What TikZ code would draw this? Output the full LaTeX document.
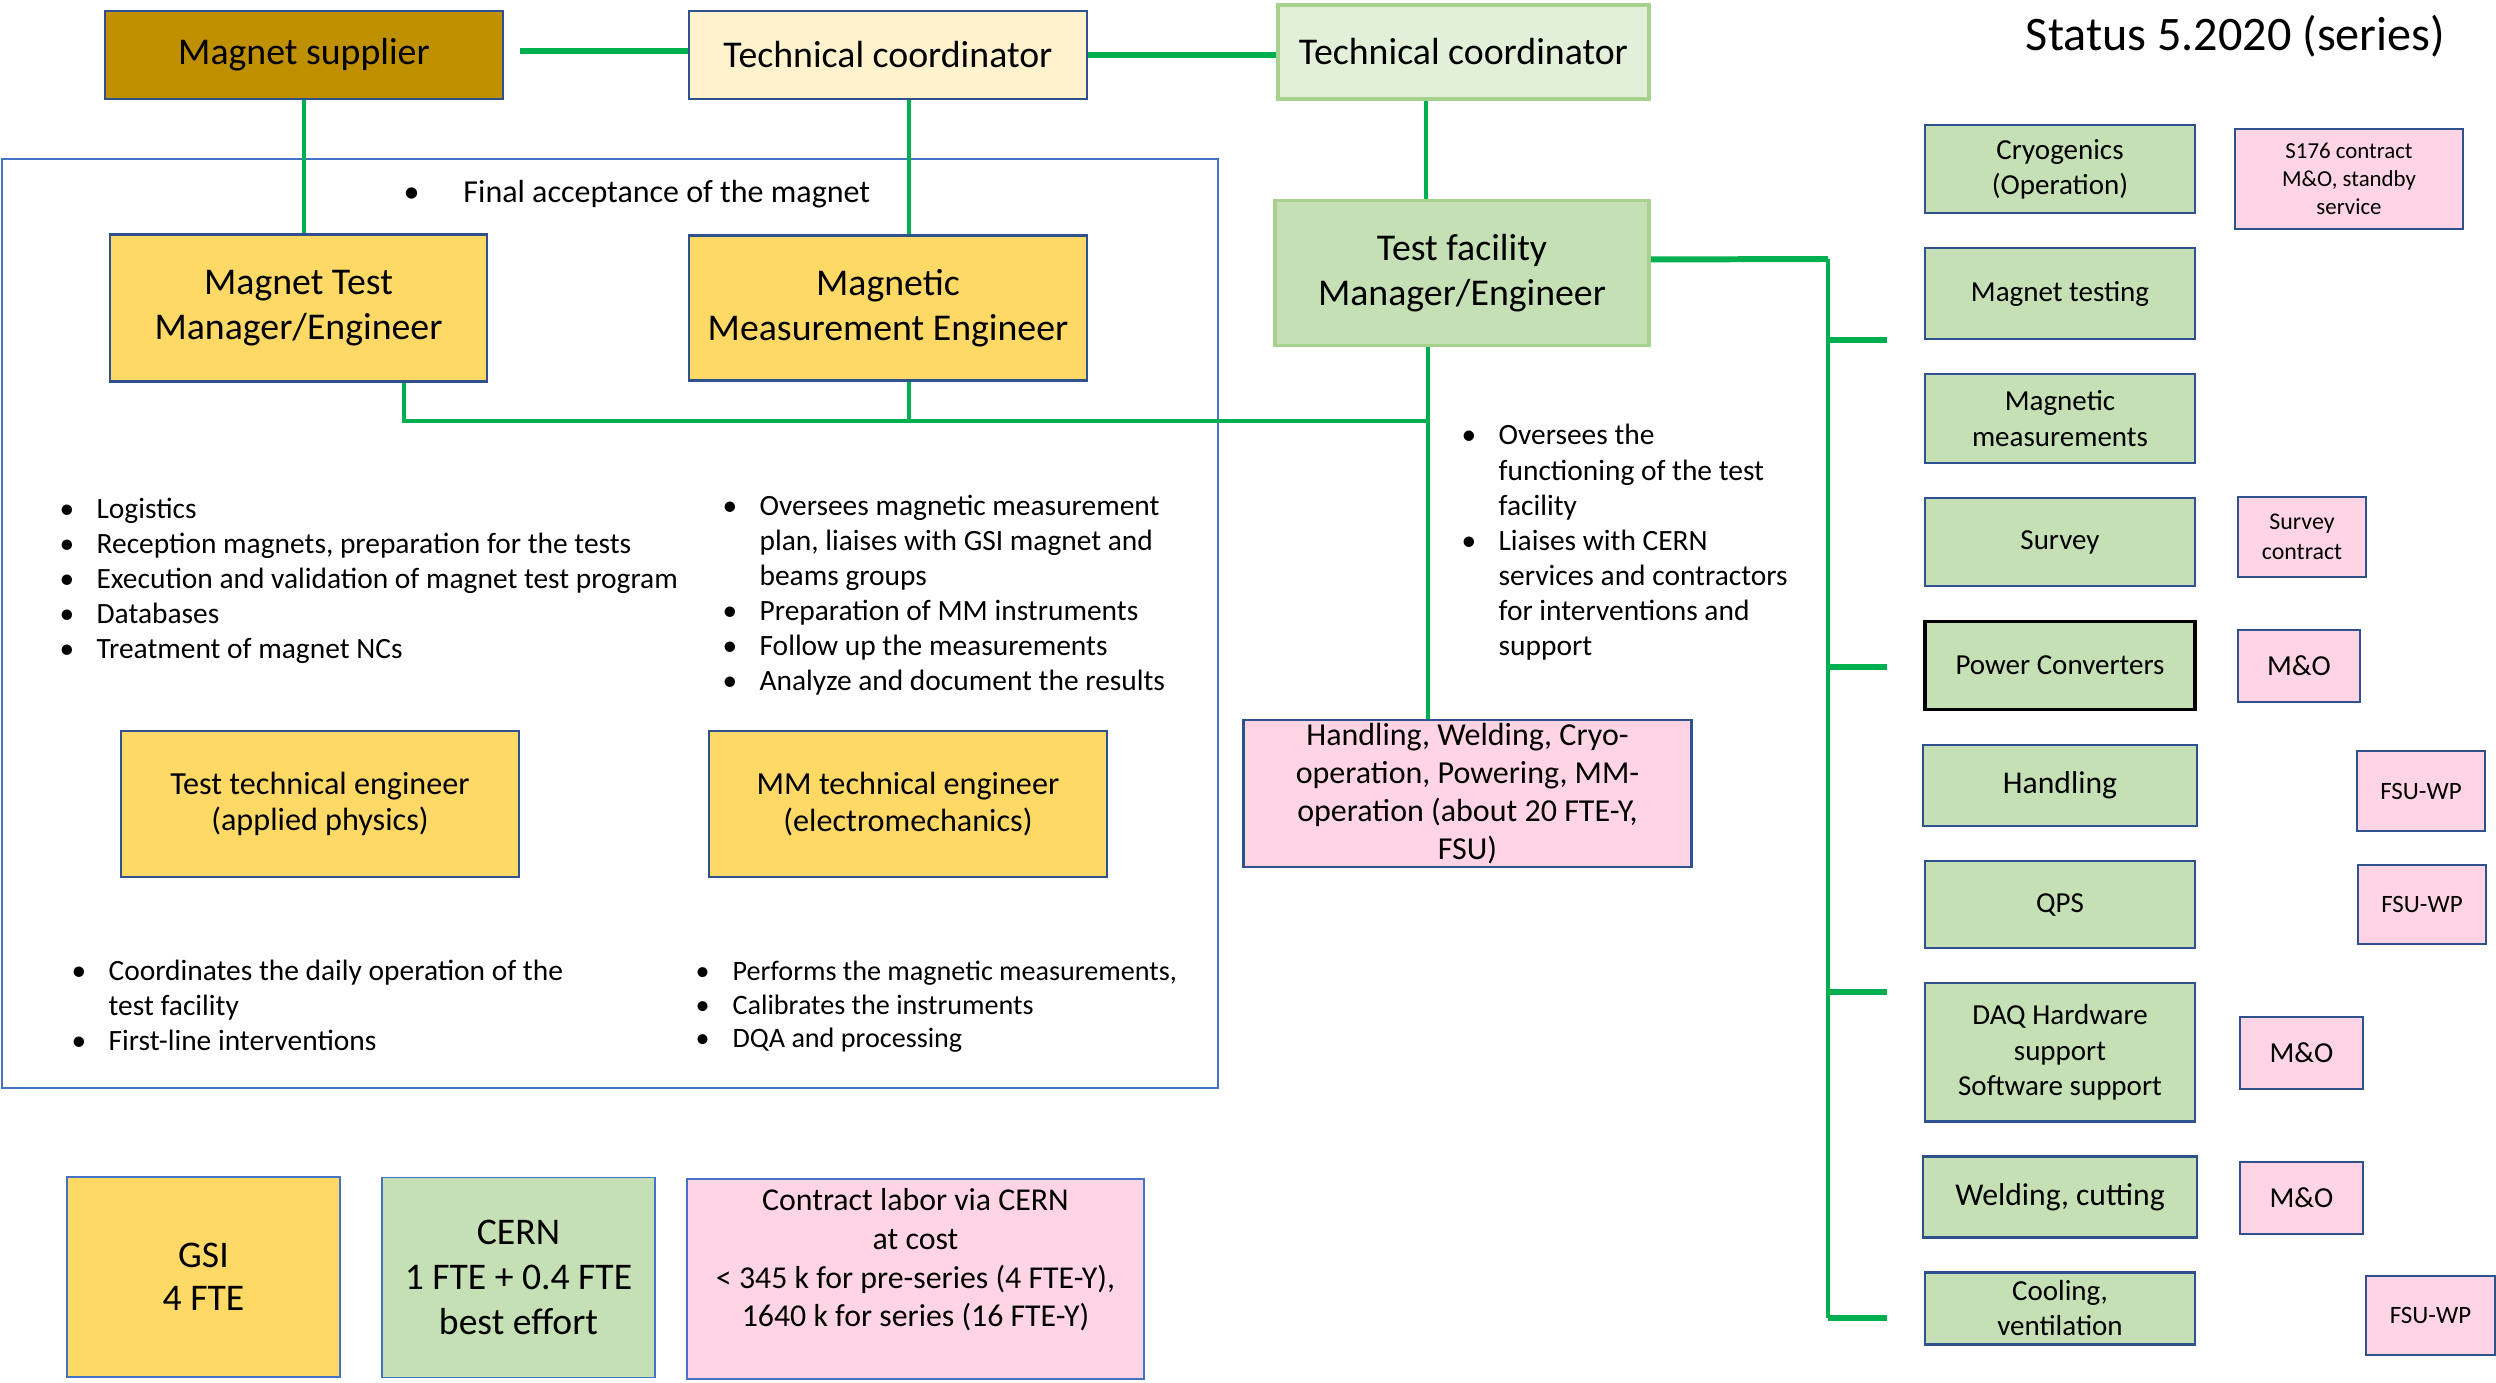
\documentclass[tikz,border=0pt]{standalone}
\usepackage{fontspec}
\setmainfont{Carlito}
\usepackage{tikz}
\usetikzlibrary{positioning, calc}

\definecolor{bdblue}{HTML}{2F528F}
\definecolor{frameblue}{HTML}{4472C4}
\definecolor{magnetgold}{HTML}{BF9000}
\definecolor{paleyellow}{HTML}{FFF2CC}
\definecolor{yellowbox}{HTML}{FFD966}
\definecolor{palegreen}{HTML}{E2F0D9}
\definecolor{greenbox}{HTML}{C5E0B4}
\definecolor{greenedge}{HTML}{A9D18E}
\definecolor{pinkbox}{HTML}{FFD5E5}
\definecolor{linegreen}{HTML}{00B050}

\newcommand{\bul}[1][10.5pt]{\makebox[#1][l]{\textbullet}}
\newcommand{\bulind}{\hspace*{10.5pt}}

\begin{document}
\begin{tikzpicture}[
    x=0.01cm, y=-0.01cm,
    node distance=0.325cm,
    box/.style={draw=bdblue, line width=0.7pt, align=center, inner sep=0pt},
    bigfont/.style={font=\fontsize{10.75}{12.8}\selectfont},
    sbox/.style={box, fill=greenbox, minimum width=2.7cm, font=\fontsize{8.25}{10}\selectfont},
    pbox/.style={box, fill=pinkbox, line width=0.8pt},
    tally/.style={box, draw=frameblue, line width=0.5pt, minimum width=2.73cm, minimum height=2cm},
    lst/.style={align=left, inner sep=0pt, anchor=base west, font=\fontsize{8.37}{10}\selectfont},
    topline/.style={draw=linegreen, line width=1.7pt},
    link/.style={draw=linegreen, line width=1.2pt}
    ]
    \useasboundingbox (0,0) rectangle (2496,1383);

    % GSI frame
    \draw[frameblue, line width=0.6pt] (2,159) rectangle (1218,1088);

    % Top row
    \node[box, fill=magnetgold, minimum width=3.98cm, minimum height=0.88cm, bigfont] (supplier) at (304,55) {Magnet supplier};
    \node[box, fill=paleyellow, minimum width=3.98cm, minimum height=0.88cm, bigfont] (coordA) at (888,55) {Technical coordinator};
    \node[box, draw=greenedge, line width=1pt, fill=palegreen, minimum width=3.71cm, minimum height=0.94cm, bigfont] (coordB) at (1463.5,52) {Technical coordinator};
    \node[anchor=base east, inner sep=0pt, font=\fontsize{13.7}{16}\selectfont] (status) at (2446,51) {Status 5.2020 (series)};

    % Managers
    \node[box, fill=yellowbox, minimum width=3.77cm, minimum height=1.47cm, bigfont] (testmgr) at (298.5,308) {Magnet Test\\Manager/Engineer};
    \node[box, fill=yellowbox, minimum width=3.98cm, minimum height=1.45cm, bigfont] (mmeng) at (888,308) {Magnetic\\Measurement Engineer};
    \node[box, draw=greenedge, line width=1pt, fill=greenbox, minimum width=3.74cm, minimum height=1.45cm, bigfont] (facmgr) at (1462,273) {Test facility\\Manager/Engineer};

    % Duties (anchored at the baseline of the last line)
    \node[lst, font=\fontsize{9.1}{11}\selectfont] (accept) at (403,203) {\bul[17pt]Final acceptance of the magnet};
    \node[lst] (mgrtasks) at (59,659) {\bul Logistics\\ \bul Reception magnets, preparation for the tests\\ \bul Execution and validation of magnet test program\\ \bul Databases\\ \bul Treatment of magnet NCs};
    \node[lst] (mmtasks) at (722,691) {\bul Oversees magnetic measurement\\ \bulind plan, liaises with GSI magnet and\\ \bulind beams groups\\ \bul Preparation of MM instruments\\ \bul Follow up the measurements\\ \bul Analyze and document the results};
    \node[lst] (factasks) at (1461,656) {\bul Oversees the\\ \bulind functioning of the test\\ \bulind facility\\ \bul Liaises with CERN\\ \bulind services and contractors\\ \bulind for interventions and\\ \bulind support};

    % Engineers
    \node[box, fill=yellowbox, minimum width=3.98cm, minimum height=1.46cm, font=\fontsize{9.15}{10.4}\selectfont] (testtech) at (320,804) {Test technical engineer\\(applied physics)};
    \node[box, fill=yellowbox, minimum width=3.98cm, minimum height=1.46cm, font=\fontsize{9.15}{10.4}\selectfont] (mmtech) at (908,804) {MM technical engineer\\(electromechanics)};
    \node[pbox, minimum width=4.47cm, minimum height=1.47cm, font=\fontsize{9.1}{10.8}\selectfont] (ops) at (1467.5,793.5) {Handling, Welding, Cryo-\\operation, Powering, MM-\\operation (about 20 FTE-Y,\\FSU)};

    \node[lst] (techtasks) at (71,1051) {\bul Coordinates the daily operation of the\\ \bulind test facility\\ \bul First-line interventions};
    \node[lst, font=\fontsize{8.0}{9.6}\selectfont] (mmtechtasks) at (695,1048) {\bul Performs the magnetic measurements,\\ \bul Calibrates the instruments\\ \bul DQA and processing};

    % Resources
    \node[tally, fill=yellowbox, font=\fontsize{10.7}{12.3}\selectfont] (gsi) at (203.5,1277) {GSI\\4 FTE};
    \node[tally, fill=greenbox, font=\fontsize{10.7}{12.8}\selectfont] (cern) at (518.5,1277.5) {CERN\\1 FTE + 0.4 FTE\\best effort};
    \node[tally, fill=pinkbox, minimum width=4.57cm, text depth=12pt, font=\fontsize{9.05}{11}\selectfont] (labor) at (915.5,1279) {Contract labor via CERN\\at cost\\< 345 k for pre-series (4 FTE-Y),\\1640 k for series (16 FTE-Y)};

    % CERN services
    \node[sbox, minimum height=0.88cm] (cryo) at (2060,169) {Cryogenics\\(Operation)};
    \node[sbox, minimum height=0.91cm, below=of cryo] (mtest) {Magnet testing};
    \node[sbox, minimum height=0.89cm, below=of mtest] (mmeas) {Magnetic\\measurements};
    \node[sbox, minimum height=0.88cm, below=of mmeas] (survey) {Survey};
    \node[sbox, draw=black, line width=1pt, minimum height=0.88cm, below=of survey] (pconv) {Power Converters};
    \node[sbox, minimum width=2.74cm, minimum height=0.81cm, font=\fontsize{9}{10}\selectfont, below=of pconv] (handl) {Handling};
    \node[sbox, minimum height=0.87cm, below=of handl] (qps) {QPS};
    \node[sbox, minimum height=1.38cm, below=of qps] (daq) {DAQ Hardware\\support\\Software support};
    \node[sbox, minimum width=2.74cm, minimum height=0.81cm, font=\fontsize{9}{10}\selectfont, below=of daq] (weld) {Welding, cutting};
    \node[sbox, minimum height=0.72cm, below=of weld] (cool) {Cooling,\\ventilation};

    % Contracts
    \node[pbox, minimum width=2.28cm, minimum height=1cm, font=\fontsize{6.5}{8}\selectfont] (s176) at (2349,179) {S176 contract\\M\&O, standby\\service};
    \node[pbox, minimum width=1.28cm, minimum height=0.8cm, font=\fontsize{6.8}{8.5}\selectfont] (svcontract) at (2302,537) {Survey\\contract};
    \node[pbox, minimum width=1.22cm, minimum height=0.72cm, font=\fontsize{8.25}{10}\selectfont] (moA) at (2299,666) {M\&O};
    \node[pbox, minimum width=1.28cm, minimum height=0.8cm, font=\fontsize{7.1}{8.5}\selectfont] (fsuA) at (2421,791) {FSU-WP};
    \node[pbox, minimum width=1.28cm, minimum height=0.79cm, font=\fontsize{7.1}{8.5}\selectfont] (fsuB) at (2422,904.5) {FSU-WP};
    \node[pbox, minimum width=1.23cm, minimum height=0.72cm, font=\fontsize{8.25}{10}\selectfont] (moB) at (2301.5,1053) {M\&O};
    \node[pbox, minimum width=1.23cm, minimum height=0.72cm, font=\fontsize{8.25}{10}\selectfont] (moC) at (2301.5,1198) {M\&O};
    \node[pbox, minimum width=1.29cm, minimum height=0.79cm, font=\fontsize{7.1}{8.5}\selectfont] (fsuC) at (2430.5,1315.5) {FSU-WP};

    % Connections
    \draw[topline] ([xshift=0.16cm, yshift=0.04cm]supplier.east) -- ([yshift=0.04cm]coordA.west);
    \draw[topline] (coordA.east) -- (coordA.east -| coordB.west);
    \draw[link] (supplier.south) -- (supplier.south |- testmgr.north);
    \draw[link] ([xshift=0.21cm]coordA.south) -- ([xshift=0.21cm]mmeng.north);
    \draw[link] ([xshift=-0.375cm]coordB.south) -- ([xshift=-0.375cm]coordB.south |- facmgr.north);

    \coordinate (junction) at (1428,421);
    \draw[link] ([xshift=1.055cm]testmgr.south) |- (junction);
    \draw[link] ([xshift=0.21cm]mmeng.south) -- ([xshift=0.21cm]mmeng.south |- junction);
    \draw[link] ([xshift=-0.34cm]facmgr.south) -- ([xshift=-0.34cm]facmgr.south |- ops.north);

    \coordinate (spinetop) at (1828,259);
    \coordinate (spinebot) at (1828,1318);
    \foreach \name/\yy in {stubA/340, stubB/667, stubC/992, stubD/1318}
        \coordinate (\name) at (1887,\yy);
    \draw[topline] ([yshift=0.135cm]facmgr.east) -- (spinetop);
    \draw[link] (spinetop) -- (spinebot);
    \foreach \s in {stubA, stubB, stubC, stubD}
        \draw[topline] (spinetop |- \s) -- (\s);
\end{tikzpicture}
\end{document}
